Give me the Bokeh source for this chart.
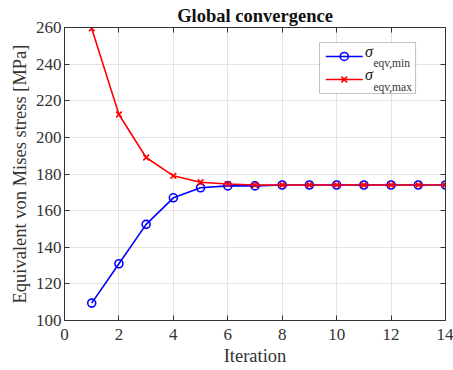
from bokeh.plotting import figure
from bokeh.models import Range1d, FixedTicker, LinearAxis, BoxAnnotation, Label
from bokeh.embed import file_html
from bokeh.resources import INLINE

iterations = [1, 2, 3, 4, 5, 6, 7, 8, 9, 10, 11, 12, 13, 14]
sigma_min = [109.5, 131, 152.5, 167, 172.5, 173.5, 173.5, 174, 174, 174, 174, 174, 174, 174]
sigma_max = [259.5, 212.5, 189, 179, 175.5, 174.5, 174, 174, 174, 174, 174, 174, 174, 174]
x_ticks = [0, 2, 4, 6, 8, 10, 12, 14]
y_ticks = [100, 120, 140, 160, 180, 200, 220, 240, 260]
legend_labels = ["eqv,min", "eqv,max"]

SERIF = "Liberation Serif"
AX = "#333333"

p = figure(width=453, height=370, output_backend="svg", toolbar_location=None,
           x_range=Range1d(0, 14), y_range=Range1d(100, 260),
           min_border_left=64, min_border_right=8, min_border_top=27, min_border_bottom=50,
           title="Global convergence")
p.title.text_font = SERIF
p.title.text_font_size = "18.5px"
p.title.text_font_style = "bold"
p.title.align = "center"
p.title.text_color = "#111111"
p.title.offset = 0
p.title.standoff = 4

p.outline_line_color = AX
p.outline_line_width = 1
p.background_fill_color = "white"
p.border_fill_color = "white"

for ax in (p.xaxis[0], p.yaxis[0]):
    ax.major_label_text_font = SERIF
    ax.major_label_text_font_size = "17px"
    ax.major_label_text_color = AX
    ax.axis_label_text_font = SERIF
    ax.axis_label_text_font_size = "18.5px"
    ax.axis_label_text_font_style = "normal"
    ax.axis_label_text_color = AX
    ax.axis_line_color = AX
    ax.major_tick_line_color = AX
    ax.major_tick_in = 5
    ax.major_tick_out = 0
    ax.minor_tick_line_color = None
p.xaxis.ticker = FixedTicker(ticks=x_ticks)
p.yaxis.ticker = FixedTicker(ticks=y_ticks)
p.xaxis.axis_label = "Iteration"
p.yaxis.axis_label = "Equivalent von Mises stress [MPa]"
p.xaxis.major_label_standoff = 8
p.yaxis.major_label_standoff = 3
p.xaxis.axis_label_standoff = 3
p.yaxis.axis_label_standoff = 3

for loc, tk in (("right", y_ticks), ("above", x_ticks)):
    a = LinearAxis(ticker=FixedTicker(ticks=tk),
                   major_label_overrides={t: "" for t in tk},
                   major_label_standoff=0, major_tick_in=5, major_tick_out=0,
                   minor_tick_line_color=None, axis_line_color=AX, major_tick_line_color=AX)
    p.add_layout(a, loc)

p.xgrid.ticker = FixedTicker(ticks=x_ticks)
p.ygrid.ticker = FixedTicker(ticks=y_ticks)
p.grid.grid_line_color = "#e3e3e3"
p.grid.grid_line_width = 1

p.line(iterations, sigma_min, line_color="#0000ff", line_width=1.6)
p.scatter(iterations, sigma_min, marker="circle", size=8, line_color="#0000ff",
          fill_color=None, line_width=1.6)
p.line(iterations, sigma_max, line_color="#ff0000", line_width=1.6)
p.scatter(iterations, sigma_max, marker="x", size=8, line_color="#ff0000", line_width=1.6)

# legend (manual, so that subscripts are possible)
p.add_layout(BoxAnnotation(left=9.37, right=12.9, bottom=224, top=251.8, level="underlay",
                           fill_color="white", fill_alpha=1, line_color=AX, line_width=1))
leg_y = [244.2, 231.6]
leg_colors = ["#0000ff", "#ff0000"]
leg_markers = ["circle", "x"]
for yy, c, m, lab in zip(leg_y, leg_colors, leg_markers, legend_labels):
    p.line([9.6, 10.96], [yy, yy], line_color=c, line_width=1.6)
    p.scatter([10.28], [yy], marker=m, size=8, line_color=c, fill_color=None, line_width=1.6)
    p.add_layout(Label(x=11.04, y=yy, text="σ", text_font=SERIF, text_font_style="italic",
                       text_font_size="16px", text_color="#111111", text_baseline="middle",
                       y_offset=5))
    p.add_layout(Label(x=11.35, y=yy, text=lab, text_font=SERIF, text_baseline="middle",
                       text_font_size="11.5px", text_color="#333333", y_offset=-7))

open("out.html", "w").write(file_html(p, INLINE))
